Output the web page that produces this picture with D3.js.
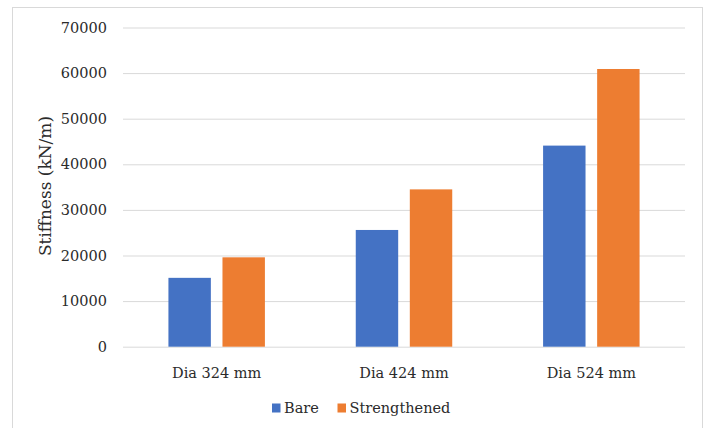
<!DOCTYPE html>
<html><head><meta charset="utf-8">
<script src="https://cdn.jsdelivr.net/npm/d3@7"></script>
<style>body{margin:0;background:#fff}svg{display:block}text{font-family:"DejaVu Serif",serif;fill:#2b2b2b}</style>
</head><body><svg id="c" width="708" height="428"></svg>
<script>
const categories = ["Dia 324 mm", "Dia 424 mm", "Dia 524 mm"];
const seriesNames = ["Bare", "Strengthened"];
const bare = [15100, 25600, 44100];
const strengthened = [19600, 34500, 60900];
const yTicks = [0, 10000, 20000, 30000, 40000, 50000, 60000, 70000];
const colors = ["#4472C4", "#ED7D31"];
const textColor = "#2b2b2b";

const svg = d3.select("#c");
svg.append("rect").attr("x", 12.5).attr("y", 7.5).attr("width", 690).attr("height", 440)
  .attr("fill", "#fff").attr("stroke", "#d9d9d9");

const pL = 123, pR = 685, pT = 27.5, pB = 346.7;
const y = d3.scaleLinear().domain([0, 70000]).range([pB, pT]);
const x0 = d3.scaleBand().domain(categories).range([pL, pR]);
const gw = x0.bandwidth() * 0.515;
const x1 = d3.scaleBand().domain(seriesNames).range([-gw / 2, gw / 2]).paddingInner(0.215);

const yAxis = d3.axisLeft(y).tickValues(yTicks).tickSize(-(pR - pL)).tickPadding(16).tickFormat(d3.format("d"));
const ga = svg.append("g").attr("transform", `translate(${pL},0)`).call(yAxis);
ga.select(".domain").remove();
ga.selectAll(".tick line").attr("stroke", "#d9d9d9").attr("stroke-width", 1);
ga.selectAll(".tick text").attr("font-size", 14.5).style("fill", textColor).attr("font-family", "DejaVu Serif");

const data = categories.map((c, i) => ({ c, vals: [bare[i], strengthened[i]] }));
const g = svg.append("g");
data.forEach(d => {
  d.vals.forEach((v, j) => {
    g.append("rect")
      .attr("x", x0(d.c) + x0.bandwidth() / 2 + x1(seriesNames[j]))
      .attr("y", y(v)).attr("width", x1.bandwidth()).attr("height", y(0) - y(v))
      .attr("fill", colors[j]);
  });
});

const xAxis = d3.axisBottom(x0).tickSize(0).tickPadding(21);
const gx = svg.append("g").attr("transform", `translate(0,${pB})`).call(xAxis);
gx.select(".domain").remove();
gx.selectAll(".tick text").attr("font-size", 14.5).style("fill", textColor).attr("font-family", "DejaVu Serif");

svg.append("text").attr("transform", `translate(51,186) rotate(-90)`)
  .attr("text-anchor", "middle").attr("font-size", 17).text("Stiffness (kN/m)");

const legX = [272, 337.5];
seriesNames.forEach((s, j) => {
  svg.append("rect").attr("x", legX[j]).attr("y", 403.5).attr("width", 8.5).attr("height", 9).attr("fill", colors[j]);
  svg.append("text").attr("x", legX[j] + 12).attr("y", 413).attr("font-size", 14.5).text(s);
});
</script></body></html>
